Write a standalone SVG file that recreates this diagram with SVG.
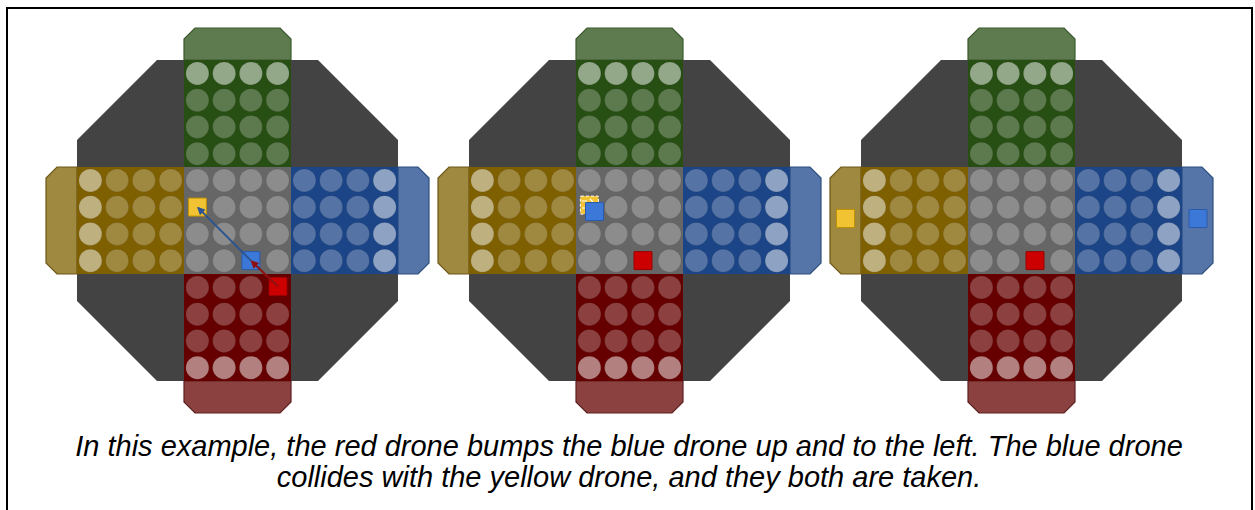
<svg xmlns="http://www.w3.org/2000/svg" xmlns:xlink="http://www.w3.org/1999/xlink" width="1255" height="510" viewBox="0 0 1255 510">
<style>
.c1{fill:#ffffff;fill-opacity:0.25;stroke:#000;stroke-opacity:0.08;stroke-width:1}
.c2{fill:#ffffff;fill-opacity:0.5;stroke:#000;stroke-opacity:0.08;stroke-width:1}
.tab{stroke-width:1.2}
.drone{stroke-width:1}
.gap{fill:#666666}
.gapr{fill:#660000}
.cap{font-family:"Liberation Sans",Arial,sans-serif;font-style:italic;font-size:29px;fill:#000;text-anchor:middle}
</style>
<defs>
<g id="row1"><circle class="c1" cx="-40.125" cy="0" r="11.5"/><circle class="c1" cx="-13.375" cy="0" r="11.5"/><circle class="c1" cx="13.375" cy="0" r="11.5"/><circle class="c1" cx="40.125" cy="0" r="11.5"/></g>
<g id="row2"><circle class="c2" cx="-40.125" cy="0" r="11.5"/><circle class="c2" cx="-13.375" cy="0" r="11.5"/><circle class="c2" cx="13.375" cy="0" r="11.5"/><circle class="c2" cx="40.125" cy="0" r="11.5"/></g>
<g id="col1"><circle class="c1" cy="-40.125" cx="0" r="11.5"/><circle class="c1" cy="-13.375" cx="0" r="11.5"/><circle class="c1" cy="13.375" cx="0" r="11.5"/><circle class="c1" cy="40.125" cx="0" r="11.5"/></g>
<g id="col2"><circle class="c2" cy="-40.125" cx="0" r="11.5"/><circle class="c2" cy="-13.375" cx="0" r="11.5"/><circle class="c2" cy="13.375" cx="0" r="11.5"/><circle class="c2" cy="40.125" cx="0" r="11.5"/></g>
<g id="board">
<polygon points="-80.5,-160.5 80.5,-160.5 160.5,-80.5 160.5,80.5 80.5,160.5 -80.5,160.5 -160.5,80.5 -160.5,-80.5" fill="#434343"/>
<path class="tab" d="M-53.5,-160.5 V-181.5 L-42.5,-192.5 H42.5 L53.5,-181.5 V-160.5 Z" fill="#5e7b4f" stroke="#3b5a2c"/>
<path class="tab" d="M-53.5,160.5 V181.5 L-42.5,192.5 H42.5 L53.5,181.5 V160.5 Z" fill="#8c4141" stroke="#5e2020"/>
<path class="tab" d="M-160.5,-53.5 H-180.5 L-191.5,-42.5 V42.5 L-180.5,53.5 H-160.5 Z" fill="#9f8840" stroke="#6e5717"/>
<path class="tab" d="M160.5,-53.5 H180.5 L191.5,-42.5 V42.5 L180.5,53.5 H160.5 Z" fill="#5574a8" stroke="#2f4f80"/>
<rect x="-53.5" y="-160.5" width="107" height="107" fill="#274e13"/>
<rect x="-53.5" y="53.5" width="107" height="107" fill="#660000"/>
<rect x="-160.5" y="-53.5" width="107" height="107" fill="#7f6000"/>
<rect x="53.5" y="-53.5" width="107" height="107" fill="#1c4587"/>
<rect x="-53.5" y="-53.5" width="107" height="107" fill="#666666"/>
<use xlink:href="#row2" y="-147.125"/><use xlink:href="#row1" y="-120.375"/><use xlink:href="#row1" y="-93.625"/><use xlink:href="#row1" y="-66.875"/>
<use xlink:href="#row1" y="66.875"/><use xlink:href="#row1" y="93.625"/><use xlink:href="#row1" y="120.375"/><use xlink:href="#row2" y="147.125"/>
<use xlink:href="#col2" x="-147.125"/><use xlink:href="#col1" x="-120.375"/><use xlink:href="#col1" x="-93.625"/><use xlink:href="#col1" x="-66.875"/>
<use xlink:href="#col1" x="66.875"/><use xlink:href="#col1" x="93.625"/><use xlink:href="#col1" x="120.375"/><use xlink:href="#col2" x="147.125"/>
<use xlink:href="#row1" y="-40.125"/><use xlink:href="#row1" y="-13.375"/><use xlink:href="#row1" y="13.375"/><use xlink:href="#row1" y="40.125"/>
</g>
<rect id="sq" x="-9" y="-9" width="18" height="18" rx="0.5"/>
<rect id="slot" x="-12.8" y="-12.8" width="25.6" height="25.6"/>
<marker id="ab" viewBox="0 0 10 10" refX="8" refY="5" markerWidth="4" markerHeight="4" orient="auto"><path d="M0,0 L10,5 L0,10 Z" fill="#2c5490"/></marker>
<marker id="ar" viewBox="0 0 10 10" refX="8" refY="5" markerWidth="4" markerHeight="4" orient="auto"><path d="M0,0 L10,5 L0,10 Z" fill="#8f1010"/></marker>
</defs>
<rect x="7" y="8" width="1245" height="520" fill="#ffffff" stroke="#000000" stroke-width="2"/>
<g id="board-1"><use xlink:href="#board" x="237.5" y="220.5"/>
<use xlink:href="#slot" class="gap" x="197.375" y="207.125"/><use xlink:href="#slot" class="gap" x="250.875" y="260.625"/><use xlink:href="#slot" class="gapr" x="277.625" y="287.375"/></g>
<g id="board-2"><use xlink:href="#board" x="629.5" y="220.5"/>
<use xlink:href="#slot" class="gap" x="589.375" y="207.125"/><use xlink:href="#slot" class="gap" x="642.875" y="260.625"/></g>
<g id="board-3"><use xlink:href="#board" x="1021.5" y="220.5"/>
<use xlink:href="#slot" class="gap" x="1034.875" y="260.625"/></g>
<g id="drones-1">
<use id="yellow-1" xlink:href="#sq" x="197.4" y="207.1" class="drone" fill="#f1c232" stroke="#bf9000"/>
<use id="blue-1" xlink:href="#sq" x="250.9" y="260.6" class="drone" fill="#3c78d8" stroke="#2a5aa8"/>
<use id="red-1" xlink:href="#sq" x="278" y="286.5" class="drone" fill="#cc0000" stroke="#990000"/>
</g>
<g id="drones-2">
<g id="yellow-2">
<use xlink:href="#sq" x="589.4" y="205.1" class="drone" fill="#f1c232" stroke="#ffffff" stroke-dasharray="3 2" stroke-width="1.5"/>
<path d="M582,201 h5 M590,199 l3,3 M582,208 h4" stroke="#ffffff" stroke-width="1.2" fill="none"/>
</g>
<use id="blue-2" xlink:href="#sq" x="594.5" y="211.5" class="drone" fill="#3c78d8" stroke="#2a5aa8"/>
<use id="red-2" xlink:href="#sq" x="643" y="260.6" class="drone" fill="#cc0000" stroke="#990000"/>
</g>
<g id="drones-3">
<use id="yellow-3" xlink:href="#sq" x="845.5" y="218.5" class="drone" fill="#f1c232" stroke="#bf9000"/>
<use id="blue-3" xlink:href="#sq" x="1198" y="218.5" class="drone" fill="#3c78d8" stroke="#2a5aa8"/>
<use id="red-3" xlink:href="#sq" x="1035" y="260.6" class="drone" fill="#cc0000" stroke="#990000"/>
</g>
<g id="connectors">
<line x1="250.9" y1="260.6" x2="198.2" y2="207.9" stroke="#2c5490" stroke-width="2" marker-end="url(#ab)"/>
<line x1="278" y1="286.5" x2="251.7" y2="261.4" stroke="#8f1010" stroke-width="2" marker-end="url(#ar)"/>
</g>
<g id="caption">
<text class="cap" x="629" y="456">In this example, the red drone bumps the blue drone up and to the left. The blue drone</text>
<text class="cap" x="629" y="487">collides with the yellow drone, and they both are taken.</text>
</g>
</svg>
